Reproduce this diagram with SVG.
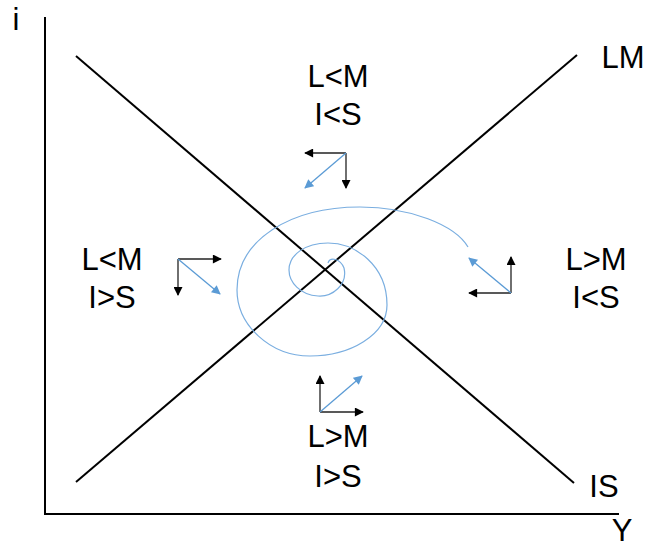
<svg xmlns="http://www.w3.org/2000/svg" width="651" height="547" viewBox="0 0 651 547">
<defs>
<marker id="ab" viewBox="0 0 10 10" refX="9" refY="5" markerWidth="10" markerHeight="9" markerUnits="userSpaceOnUse" orient="auto"><path d="M0,0 L10,5 L0,10 z" fill="#000"/></marker>
<marker id="au" viewBox="0 0 10 10" refX="9" refY="5" markerWidth="10" markerHeight="9" markerUnits="userSpaceOnUse" orient="auto"><path d="M0,0 L10,5 L0,10 z" fill="#5b9bd5"/></marker>
</defs>
<style>
.t{font-family:"Liberation Sans","Open Sans",sans-serif;font-size:31px;fill:#000;text-anchor:middle}
.ax{stroke:#000;stroke-width:2;fill:none}
.ln{stroke:#000;stroke-width:2;fill:none}
.k{stroke:#222;stroke-width:1.3;fill:none;marker-end:url(#ab)}
.b{stroke:#5b9bd5;stroke-width:1.3;fill:none;marker-end:url(#au)}
.sp{stroke:#7aaee0;stroke-width:1.2;fill:none}
</style>
<rect width="651" height="547" fill="#fff"/>
<g id="axes">
<line class="ax" x1="45" y1="17" x2="45" y2="514"/>
<line class="ax" x1="44" y1="514" x2="619" y2="514"/>
<text class="t" x="16" y="30">i</text>
<text class="t" x="622" y="541">Y</text>
</g>
<g id="LM">
<line class="ln" x1="76" y1="482" x2="577" y2="55"/>
<text class="t" x="623" y="68">LM</text>
</g>
<g id="IS">
<line class="ln" x1="76" y1="56" x2="574" y2="483"/>
<text class="t" x="604" y="497">IS</text>
</g>
<g id="spiral">
<path class="sp" d="M328,263 C330,257 340,258 344,268 C348,285 332,297 318,296 C300,295 289,282 289,270 C289,255 305,243 328,243 C355,243 387,265 387,305 C387,335 350,356 310,356 C270,356 237,325 237,290 C237,240 290,207 360,207 C410,207 455,225 468,247"/>
</g>
<g id="top">
<text class="t" x="338" y="87">L&lt;M</text>
<text class="t" x="338" y="125">I&lt;S</text>
</g>
<g id="left">
<text class="t" x="112" y="270">L&lt;M</text>
<text class="t" x="112" y="308">I&gt;S</text>
</g>
<g id="right">
<text class="t" x="596" y="270">L&gt;M</text>
<text class="t" x="596" y="308">I&lt;S</text>
</g>
<g id="bottom">
<text class="t" x="338" y="447">L&gt;M</text>
<text class="t" x="338" y="487">I&gt;S</text>
</g>
<g id="connectors">
<line class="k" x1="346" y1="153" x2="305" y2="153"/>
<line class="k" x1="346" y1="153" x2="346" y2="188"/>
<line class="b" x1="346" y1="153" x2="305" y2="188"/>
<line class="k" x1="178" y1="259" x2="221" y2="259"/>
<line class="k" x1="178" y1="259" x2="178" y2="295"/>
<line class="b" x1="178" y1="259" x2="220" y2="294"/>
<line class="k" x1="511" y1="293" x2="469" y2="293"/>
<line class="k" x1="511" y1="293" x2="511" y2="257"/>
<line class="b" x1="511" y1="293" x2="469" y2="258"/>
<line class="k" x1="320" y1="412" x2="320" y2="376"/>
<line class="k" x1="320" y1="412" x2="363" y2="412"/>
<line class="b" x1="320" y1="412" x2="362" y2="376"/>
</g>
</svg>
